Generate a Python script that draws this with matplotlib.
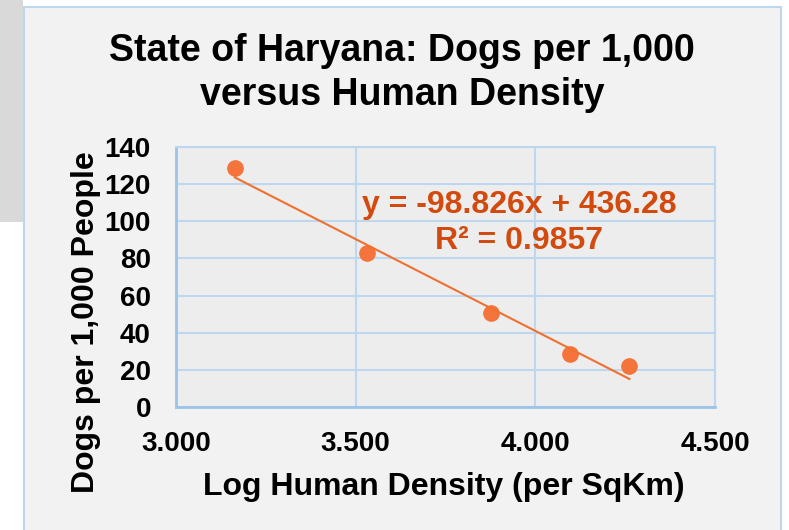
import numpy as np
import matplotlib.pyplot as plt
from matplotlib.patches import Rectangle

# Data
logDensity = [3.164, 3.531, 3.877, 4.096, 4.262]
dogsPer1000 = [128.5, 82.8, 50.5, 28.4, 22.1]
slope = -98.826
intercept = 436.28
rSquared = 0.9857

xTicks = [3.0, 3.5, 4.0, 4.5]
yTicks = [0, 20, 40, 60, 80, 100, 120, 140]

plt.rcParams['font.family'] = ['Liberation Sans', 'DejaVu Sans']
plt.rcParams['font.weight'] = 'bold'

W, H = 789, 530
fig = plt.figure(figsize=(W / 100, H / 100), dpi=100)
fig.patch.set_facecolor('white')

# Gray block on the left and the chart panel
fig.patches.append(Rectangle((0, 1 - 222 / H), 23 / W, 222 / H,
                             transform=fig.transFigure, facecolor='#D9D9D9',
                             edgecolor='none', zorder=0))
fig.patches.append(Rectangle((24 / W, -0.05), 757 / W, 1.05 - 7 / H,
                             transform=fig.transFigure, facecolor='#F2F2F2',
                             edgecolor='#BDD7EE', linewidth=1.5, zorder=1))

ax = fig.add_axes([176 / W, 1 - 407 / H, (715 - 176) / W, (407 - 147) / H])
ax.set_facecolor('#EDEDED')
ax.set_zorder(2)

ax.set_xlim(3.0, 4.5)
ax.set_ylim(0, 140)
ax.set_xticks(xTicks)
ax.set_yticks(yTicks)
ax.set_xticklabels(["%.3f" % v for v in xTicks])
ax.grid(True, color='#BDD7EE', linewidth=1.5)
ax.set_axisbelow(True)
for s in ['top', 'right']:
    ax.spines[s].set_color('#BDD7EE')
    ax.spines[s].set_linewidth(1.5)
for s in ['left', 'bottom']:
    ax.spines[s].set_color('#9DC3E6')
    ax.spines[s].set_linewidth(2)
ax.tick_params(length=0, labelsize=20)
ax.tick_params(axis='y', pad=18)
ax.tick_params(axis='x', pad=17)
for lbl in ax.get_xticklabels() + ax.get_yticklabels():
    lbl.set_fontweight('bold')

# Points and linear trendline
ax.plot(logDensity, dogsPer1000, 'o', color='#F4743B', markersize=11, zorder=3)
xs = np.array([logDensity[0], logDensity[-1]])
ax.plot(xs, slope * xs + intercept, color='#F07030', linewidth=1.5, zorder=3)

eqText = "y = %.3fx + %.2f\nR² = %.4f" % (slope, intercept, rSquared)
fig.text(519 / W, 1 - 223 / H, eqText, ha='center', va='center',
         fontsize=23, fontweight='bold', color='#D24A0E', linespacing=1.3,
         zorder=5)

# Titles and labels
fig.text(402 / W, 1 - 73 / H, "State of Haryana: Dogs per 1,000\nversus Human Density",
         ha='center', va='center', fontsize=27, fontweight='bold',
         linespacing=1.3)
fig.text(444 / W, 1 - 487 / H, "Log Human Density (per SqKm)",
         ha='center', va='center', fontsize=23, fontweight='bold')
fig.text(86 / W, 1 - 322 / H, "Dogs per 1,000 People", rotation=90,
         ha='center', va='center', fontsize=23, fontweight='bold')

plt.savefig("out.png", dpi=100)
